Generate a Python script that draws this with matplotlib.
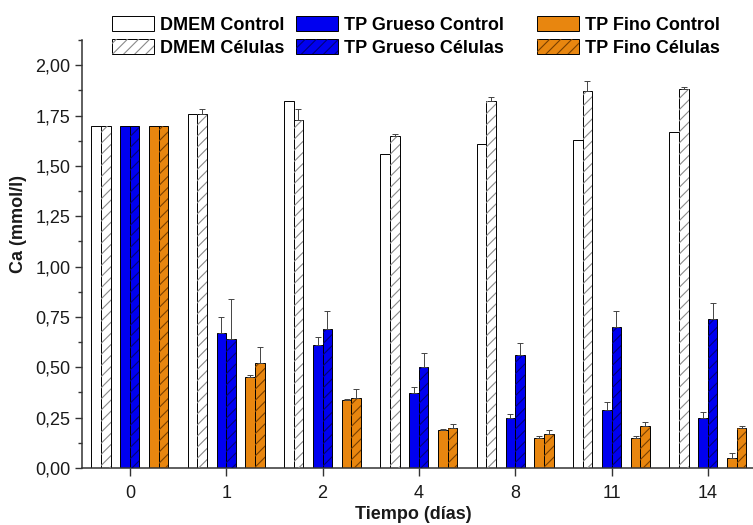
import numpy as np
import matplotlib
matplotlib.use("Agg")
import matplotlib.pyplot as plt
from matplotlib.patches import Patch
from matplotlib.ticker import FixedLocator, MultipleLocator, FuncFormatter

# Calcium concentration (mmol/l) per day, mean and upper error
days = ["0", "1", "2", "4", "8", "11", "14"]

dmem_control = [1.70, 1.76, 1.82, 1.56, 1.61, 1.63, 1.67]
dmem_control_err = [np.nan, np.nan, np.nan, np.nan, np.nan, np.nan, np.nan]
dmem_cells = [1.70, 1.76, 1.73, 1.65, 1.82, 1.87, 1.88]
dmem_cells_err = [np.nan, 0.02, 0.05, 0.01, 0.02, 0.05, 0.01]

tpg_control = [1.70, 0.67, 0.61, 0.37, 0.25, 0.29, 0.25]
tpg_control_err = [np.nan, 0.08, 0.04, 0.03, 0.02, 0.04, 0.03]
tpg_cells = [1.70, 0.64, 0.69, 0.50, 0.56, 0.70, 0.74]
tpg_cells_err = [np.nan, 0.20, 0.09, 0.07, 0.06, 0.08, 0.08]

tpf_control = [1.70, 0.45, 0.34, 0.19, 0.15, 0.15, 0.05]
tpf_control_err = [np.nan, 0.01, 0.005, 0.005, 0.01, 0.01, 0.025]
tpf_cells = [1.70, 0.52, 0.35, 0.20, 0.17, 0.21, 0.20]
tpf_cells_err = [np.nan, 0.08, 0.04, 0.02, 0.02, 0.02, 0.01]

series_labels = ["DMEM Control", "DMEM Células",
                 "TP Grueso Control", "TP Grueso Células",
                 "TP Fino Control", "TP Fino Células"]

plt.rcParams["font.family"] = ["Liberation Sans", "DejaVu Sans"]
plt.rcParams["hatch.linewidth"] = 0.8

WHITE = "#ffffff"
BLUE = "#0000f0"
ORANGE = "#e8860f"
HATCH_GREY = "#8a8a8a"
HATCH_BLUE = "#00007a"
HATCH_BROWN = "#7a4000"
TEXT = "#1a1a1a"
AXIS = "#333333"

series = [
    (dmem_control, dmem_control_err, WHITE, None, -0.35),
    (dmem_cells, dmem_cells_err, WHITE, HATCH_GREY, -0.25),
    (tpg_control, tpg_control_err, BLUE, None, -0.05),
    (tpg_cells, tpg_cells_err, BLUE, HATCH_BLUE, 0.05),
    (tpf_control, tpf_control_err, ORANGE, None, 0.25),
    (tpf_cells, tpf_cells_err, ORANGE, HATCH_BROWN, 0.35),
]

fig = plt.figure(figsize=(7.53, 5.25), dpi=100)
ax = fig.add_axes([81.7 / 753, 57 / 525, (756 - 81.7) / 753, 428 / 525])

x = np.arange(len(days))
width = 0.1
handles = []
for vals, errs, face, hcolor, off in series:
    pos = x + off
    ax.bar(pos, vals, width, color=face, edgecolor="black", linewidth=0.7, zorder=2)
    if hcolor is not None:
        ax.bar(pos, vals, width, color="none", edgecolor=hcolor, linewidth=0,
               hatch="///", zorder=3)
    errs = np.asarray(errs, dtype=float)
    ok = ~np.isnan(errs)
    ax.errorbar(pos[ok], np.asarray(vals)[ok],
                yerr=[np.zeros(ok.sum()), errs[ok]],
                fmt="none", ecolor="#444444", elinewidth=0.7,
                capsize=2.5, capthick=0.7, zorder=4)
    base = Patch(facecolor=face, edgecolor="black", linewidth=0.7)
    if hcolor is not None:
        handles.append((base, Patch(facecolor="none", edgecolor=hcolor,
                                    linewidth=0, hatch="///")))
    else:
        handles.append(base)

ax.set_xlim(-0.5, 6.5)
ax.set_ylim(0, 2.125)
ax.xaxis.set_major_locator(FixedLocator(x))
ax.set_xticklabels(days)
ax.yaxis.set_major_locator(MultipleLocator(0.25))
ax.yaxis.set_minor_locator(MultipleLocator(0.125))
ax.yaxis.set_major_formatter(FuncFormatter(lambda v, p: f"{v:.2f}".replace(".", ",")))

for side in ("top", "right"):
    ax.spines[side].set_visible(False)
for side in ("left", "bottom"):
    ax.spines[side].set_color(AXIS)
    ax.spines[side].set_linewidth(1.1)

ax.tick_params(axis="both", which="major", direction="out", length=5,
               width=1.0, color=AXIS, labelsize=13, labelcolor=TEXT, pad=3)
ax.tick_params(axis="y", which="minor", direction="out", length=3,
               width=1.0, color=AXIS)
ax.tick_params(axis="x", which="major", length=6, pad=6)

ax.set_xlabel("Tiempo (días)", fontsize=13, fontweight="bold", color=TEXT)
ax.set_ylabel("Ca (mmol/l)", fontsize=13, fontweight="bold", color=TEXT)
ax.xaxis.set_label_coords((413 - 81.7) / 674.3, -0.088)
ax.yaxis.set_label_coords((27 - 81.7) / 674.3, 0.57)

# one legend per column so each column sits at its own x
column_left = [112, 296, 537]
for col, left in enumerate(column_left):
    leg = fig.legend(handles[2 * col:2 * col + 2],
                     series_labels[2 * col:2 * col + 2],
                     ncol=1, loc="upper left",
                     bbox_to_anchor=(left / 753, 1 - 16 / 525),
                     frameon=False, borderpad=0, borderaxespad=0,
                     handlelength=2.33, handleheight=0.9, handletextpad=0.35,
                     labelspacing=0.3,
                     prop={"weight": "bold", "size": 13})

fig.savefig("out.png", dpi=100, facecolor="white")
